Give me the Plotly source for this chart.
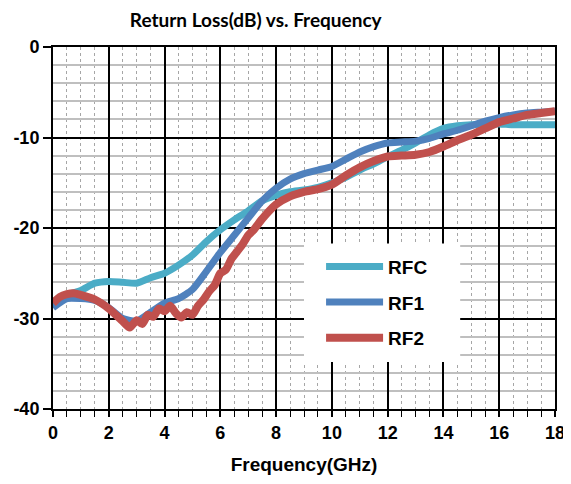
import plotly.graph_objects as go

# ---- data ----
freq_rfc = [0, 0.5, 1.0, 1.5, 2.0, 2.5, 3.0, 3.5, 4.0, 4.5, 5.0, 5.5, 6.0, 6.5, 7.0, 7.5, 8.0, 8.5,
            9.0, 9.5, 10.0, 10.5, 11.0, 11.5, 12.0, 12.5, 13.0, 13.5, 14.0, 14.5, 15.0, 15.5, 16.0,
            16.5, 17.0, 17.5, 18.0]
rl_rfc = [-28.3, -27.4, -26.9, -26.1, -25.9, -26.0, -26.1, -25.5, -25.0, -24.1, -23.0, -21.5, -20.2,
          -19.1, -18.1, -17.0, -16.4, -16.0, -15.8, -15.5, -15.0, -14.4, -13.6, -12.9, -12.1, -11.4,
          -10.6, -9.7, -9.0, -8.7, -8.6, -8.5, -8.5, -8.6, -8.6, -8.6, -8.6]

freq_rf1 = freq_rfc
rl_rf1 = [-28.8, -27.8, -27.8, -28.0, -28.8, -30.0, -30.3, -29.3, -28.3, -27.8, -26.8, -24.8, -22.7,
          -20.8, -18.9, -17.0, -15.6, -14.6, -14.0, -13.6, -13.2, -12.4, -11.6, -11.0, -10.6, -10.5,
          -10.4, -10.1, -9.6, -9.2, -8.7, -8.2, -7.8, -7.5, -7.3, -7.2, -7.1]

freq_rf2 = [0, 0.25, 0.5, 0.75, 1.0, 1.5, 2.0, 2.25, 2.5, 2.75, 3.0, 3.2, 3.4, 3.6, 3.8, 4.0, 4.2,
            4.4, 4.6, 4.8, 5.0, 5.2, 5.4, 5.6, 5.8, 6.0, 6.2, 6.4, 6.6, 6.8, 7.0, 7.2, 7.5, 8.0, 8.5,
            9.0, 9.5, 10.0, 10.5, 11.0, 11.5, 12.0, 12.5, 13.0, 13.5, 14.0, 14.5, 15.0, 15.5, 16.0,
            16.5, 17.0, 17.5, 18.0]
rl_rf2 = [-28.3, -27.6, -27.3, -27.2, -27.4, -27.9, -28.9, -29.6, -30.3, -31.0, -30.2, -30.6, -29.6,
          -29.8, -28.9, -29.2, -28.6, -29.4, -29.9, -29.3, -29.6, -28.6, -27.9, -27.0, -26.3, -25.0,
          -24.6, -23.4, -22.6, -21.8, -20.8, -20.2, -19.0, -17.4, -16.5, -16.0, -15.7, -15.2, -14.2,
          -13.3, -12.6, -12.1, -12.0, -11.9, -11.6, -11.0, -10.3, -9.7, -9.0, -8.3, -7.9, -7.5,
          -7.3, -7.1]

series_names = ["RFC", "RF1", "RF2"]
series_colors = ["#4BACC6", "#4F81BD", "#C0504D"]
series_widths = [7, 7, 8]

x_tick_vals = [0, 2, 4, 6, 8, 10, 12, 14, 16, 18]
x_tick_text = ["0", "2", "4", "6", "8", "10", "12", "14", "16", "18"]
y_tick_vals = [-40, -30, -20, -10, 0]
y_tick_text = ["-40", "-30", "-20", "-10", "0"]

title_text = "Return Loss(dB) vs. Frequency"
x_title = "Frequency(GHz)"

fig = go.Figure()
for name, fx, fy, col, w in zip(series_names, [freq_rfc, freq_rf1, freq_rf2],
                                [rl_rfc, rl_rf1, rl_rf2], series_colors, series_widths):
    fig.add_trace(go.Scatter(x=fx, y=fy, name=name, mode="lines", legendgroup=name,
                             line=dict(color=col, width=w, shape="spline", smoothing=0.6)))

# white legend box covering the grid
fig.add_shape(type="rect", xref="x", yref="y", x0=9.0, x1=14.6, y0=-34.8, y1=-21.7,
              fillcolor="white", line=dict(width=0), layer="above")

tick_font = dict(family="Liberation Sans, Arial", size=18, color="black", weight="bold")

# the page body adds an 8px margin, so the figure is sized to fit the 571x484 window
fig.update_layout(
    width=563, height=476,
    margin=dict(l=45, r=16, t=39, b=75, autoexpand=False),
    paper_bgcolor="white", plot_bgcolor="white",
    title=dict(text=title_text, x=0.44, xanchor="center", yref="container", y=0.9748,
               yanchor="middle",
               font=dict(family="Lato", size=19, color="black", weight=700)),
    showlegend=True,
    legend=dict(x=0.534, xanchor="left", y=0.446, yanchor="top",
                bgcolor="rgba(0,0,0,0)", borderwidth=0, itemwidth=57,
                tracegroupgap=8,
                font=dict(family="Liberation Sans, Arial", size=19, color="black", weight="bold")),
)

fig.update_xaxes(
    range=[0, 18], tickvals=x_tick_vals, ticktext=x_tick_text, automargin=False,
    showgrid=True, gridcolor="black", gridwidth=2,
    showline=True, linecolor="black", linewidth=2, mirror=True,
    ticks="outside", ticklen=6, tickcolor="black", tickwidth=2,
    tickfont=tick_font, zeroline=False,
    minor=dict(dtick=0.5, tick0=0, showgrid=True, gridcolor="#A6A6A6", griddash="dot", gridwidth=1,
               ticks="outside", ticklen=6, tickcolor="black", tickwidth=1),
    title=dict(text=x_title, standoff=16,
               font=dict(family="Liberation Sans, Arial", size=19, color="black", weight="bold")),
)
fig.update_yaxes(
    range=[-40, 0], tickvals=y_tick_vals, ticktext=y_tick_text, automargin=False,
    showgrid=True, gridcolor="black", gridwidth=2,
    showline=True, linecolor="black", linewidth=2, mirror=True,
    ticks="outside", ticklen=8, tickcolor="black", tickwidth=2,
    tickfont=tick_font, zeroline=False,
    minor=dict(dtick=2, tick0=0, showgrid=True, gridcolor="#BFBFBF", gridwidth=2),
)

fig.write_html("out.html")
